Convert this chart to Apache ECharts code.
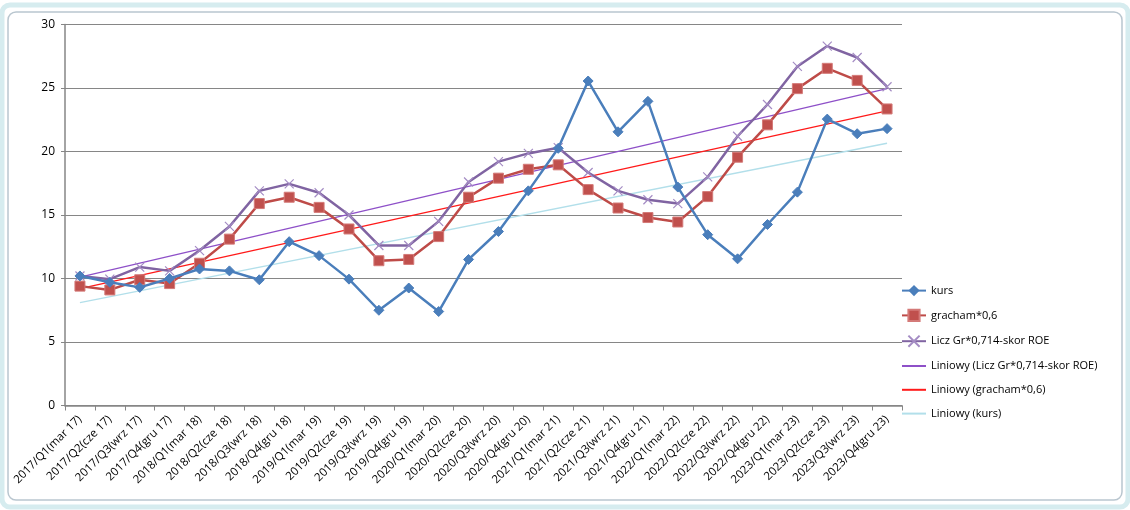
<!DOCTYPE html>
<html lang="pl">
<head>
    <meta charset="UTF-8" />
    <title>kurs / gracham / Licz Gr</title>
    <script src="https://cdn.jsdelivr.net/npm/echarts@6/dist/echarts.min.js"></script>
    <style>
        html, body { margin: 0; padding: 0; background: #fff; }
        #main { width: 1130px; height: 510px; }
    </style>
</head>
<body>
    <div id="main"></div>
    <script>
        var categories = [
            "2017/Q1(mar 17)", "2017/Q2(cze 17)", "2017/Q3(wrz 17)", "2017/Q4(gru 17)",
            "2018/Q1(mar 18)", "2018/Q2(cze 18)", "2018/Q3(wrz 18)", "2018/Q4(gru 18)",
            "2019/Q1(mar 19)", "2019/Q2(cze 19)", "2019/Q3(wrz 19)", "2019/Q4(gru 19)",
            "2020/Q1(mar 20)", "2020/Q2(cze 20)", "2020/Q3(wrz 20)", "2020/Q4(gru 20)",
            "2021/Q1(mar 21)", "2021/Q2(cze 21)", "2021/Q3(wrz 21)", "2021/Q4(gru 21)",
            "2022/Q1(mar 22)", "2022/Q2(cze 22)", "2022/Q3(wrz 22)", "2022/Q4(gru 22)",
            "2023/Q1(mar 23)", "2023/Q2(cze 23)", "2023/Q3(wrz 23)", "2023/Q4(gru 23)"
        ];
        var kurs = [10.2, 9.7, 9.3, 10.0, 10.75, 10.6, 9.9, 12.9, 11.8, 9.95, 7.5, 9.25, 7.4, 11.5,
            13.7, 16.9, 20.25, 25.55, 21.55, 23.95, 17.2, 13.45, 11.55, 14.25, 16.8, 22.55, 21.4, 21.8];
        var gracham = [9.4, 9.1, 9.9, 9.6, 11.2, 13.1, 15.9, 16.4, 15.6, 13.9, 11.4, 11.5, 13.3, 16.4,
            17.9, 18.6, 18.95, 17.0, 15.55, 14.8, 14.45, 16.45, 19.55, 22.1, 24.95, 26.55, 25.6, 23.35];
        var liczGr = [10.2, 9.95, 10.9, 10.6, 12.2, 14.1, 16.9, 17.45, 16.75, 15.0, 12.6, 12.6, 14.5, 17.6,
            19.2, 19.85, 20.3, 18.35, 16.9, 16.2, 15.9, 18.0, 21.2, 23.7, 26.7, 28.3, 27.4, 25.1];
        // linie trendu: wartość na początku i końcu
        var trendLicz = [10.1, 24.95];
        var trendGracham = [9.2, 23.2];
        var trendKurs = [8.1, 20.65];
        var yTicks = [0, 5, 10, 15, 20, 25, 30];

        function trendData(ends) {
            return categories.map(function (c, i) {
                if (i === 0) return ends[0];
                if (i === categories.length - 1) return ends[1];
                return null;
            });
        }

        function trendSeries(name, ends, color) {
            return {
                name: name, type: "line", data: trendData(ends),
                connectNulls: true, showSymbol: false, symbol: "circle", z: 1,
                itemStyle: { color: color, opacity: 0 },
                lineStyle: { color: color, width: 1.3 }
            };
        }

        var mCharts = echarts.init(document.getElementById("main"));
        var font = "'Open Sans', 'Noto Sans', sans-serif";

        var option = {
            backgroundColor: "#ffffff",
            animation: false,
            textStyle: { fontFamily: font },
            graphic: [
                { type: "rect", shape: { x: 2, y: 5, width: 1126, height: 502, r: 8 },
                  style: { fill: "none", stroke: "#d6ecef", lineWidth: 5 }, z: -2 },
                { type: "rect", shape: { x: 8, y: 12, width: 1114, height: 488, r: 8 },
                  style: { fill: "#ffffff", stroke: "#b9c6cf", lineWidth: 1.5 }, z: -1 }
            ],
            grid: { left: 65, right: 228, top: 24.5, bottom: 104.5, containLabel: false },
            legend: {
                orient: "vertical",
                left: 896,
                top: 280,
                itemGap: 12.6,
                itemWidth: 24,
                itemHeight: 14,
                textStyle: { fontSize: 11, color: "#000", fontFamily: font },
                data: ["kurs", "gracham*0,6", "Licz Gr*0,714-skor ROE",
                    "Liniowy (Licz Gr*0,714-skor ROE)", "Liniowy (gracham*0,6)", "Liniowy (kurs)"]
            },
            xAxis: {
                type: "category",
                data: categories,
                boundaryGap: true,
                axisLine: { lineStyle: { color: "#868686", width: 1.5 } },
                axisTick: { show: true, alignWithLabel: false, length: 5, lineStyle: { color: "#868686" } },
                axisLabel: { rotate: 45, interval: 0, fontSize: 11.5, color: "#000", margin: 12, fontFamily: font },
                splitLine: { show: false }
            },
            yAxis: {
                type: "value",
                min: yTicks[0],
                max: yTicks[yTicks.length - 1],
                interval: 5,
                axisLine: { show: true, lineStyle: { color: "#868686", width: 1.5 } },
                axisTick: { show: true, length: 4, lineStyle: { color: "#868686" } },
                axisLabel: { fontSize: 12, color: "#000", margin: 10, fontFamily: font },
                splitLine: { show: true, lineStyle: { color: "#868686", width: 1.2 } }
            },
            series: [
                trendSeries("Liniowy (Licz Gr*0,714-skor ROE)", trendLicz, "#8e50c8"),
                trendSeries("Liniowy (gracham*0,6)", trendGracham, "#ff1a1a"),
                trendSeries("Liniowy (kurs)", trendKurs, "#b2dfea"),
                {
                    name: "Licz Gr*0,714-skor ROE", type: "line", data: liczGr, z: 2,
                    symbol: "path://M0,0 L10,10 M10,0 L0,10", symbolSize: 9,
                    itemStyle: { color: "#8064a2", borderColor: "#a48cc4", borderWidth: 1.2 },
                    lineStyle: { color: "#8064a2", width: 2.5 }
                },
                {
                    name: "gracham*0,6", type: "line", data: gracham, z: 3,
                    symbol: "rect", symbolSize: 10,
                    itemStyle: { color: "#c0504d", borderColor: "#d47a78", borderWidth: 1 },
                    lineStyle: { color: "#be4b48", width: 2.5 }
                },
                {
                    name: "kurs", type: "line", data: kurs, z: 4,
                    symbol: "diamond", symbolSize: 10,
                    itemStyle: { color: "#4a7ebb", borderColor: "#4a7ebb" },
                    lineStyle: { color: "#4a7ebb", width: 2.5 }
                }
            ]
        };
        mCharts.setOption(option);
    </script>
</body>
</html>
